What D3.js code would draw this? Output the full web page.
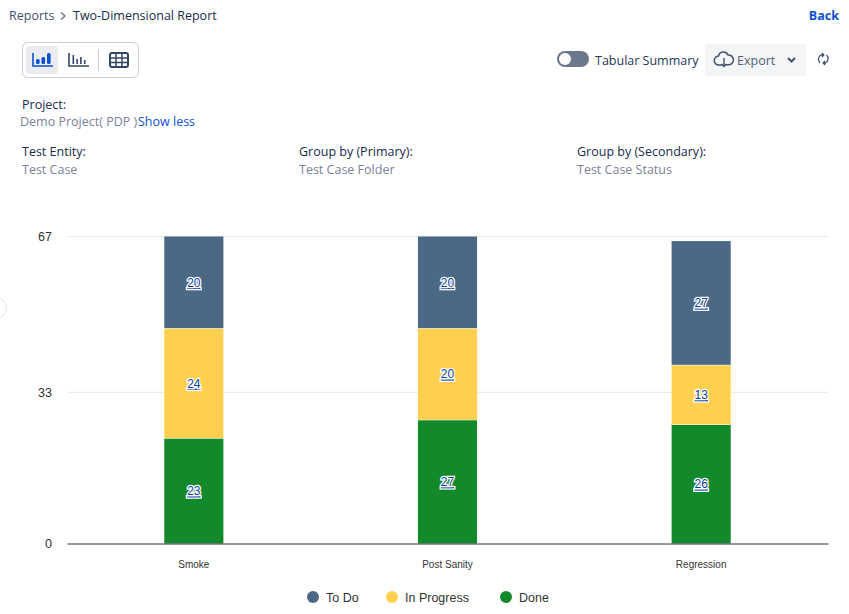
<!DOCTYPE html>
<html><head><meta charset="utf-8">
<script src="https://cdn.jsdelivr.net/npm/d3@7/dist/d3.min.js"></script>
<style>
html,body{margin:0;padding:0;background:#fff;overflow:hidden}
svg{display:block}
.ui{font-family:"Open Sans","Noto Sans",sans-serif;font-size:12.5px}
.ch{font-family:"Liberation Sans",Arial,sans-serif}
</style></head><body>
<svg id="c" width="849" height="614"></svg>
<script>
const categories=["Smoke","Post Sanity","Regression"];
const seriesNames=["Done","In Progress","To Do"];
const done=[23,27,26];
const inProgress=[24,20,13];
const toDo=[20,20,27];
const yTicks=[0,33,67];
const colors=["#128a2c","#ffd04f","#4b6885"];
const legendOrder=["To Do","In Progress","Done"];
const legendColors=["#4b6885","#ffd04f","#128a2c"];

const svg=d3.select("#c");
const dark="#253858",grey="#7a8299",blue="#0b50d0";
function t(x,y,s,o={}){
  return svg.append("text").attr("class","ui").attr("x",x).attr("y",y).text(s)
    .attr("fill",o.fill||"#172b4d").attr("font-weight",o.w||400)
    .attr("font-size",o.size||12.5).attr("text-anchor",o.a||"start");
}
// header
t(9,20,"Reports",{fill:"#42526e"});
svg.append("path").attr("d","M61 12.5l4 3.5-4 3.5").attr("fill","none").attr("stroke","#6b778c").attr("stroke-width",1.4);
t(73,20,"Two-Dimensional Report",{fill:"#172b4d",w:500});
t(839,20,"Back",{fill:blue,w:700,a:"end"});
// view buttons
svg.append("rect").attr("x",22.5).attr("y",42.5).attr("width",116).attr("height",35).attr("rx",5).attr("fill","#fff").attr("stroke","#c9ccd2");
svg.append("rect").attr("x",26).attr("y",46).attr("width",32).attr("height",28).attr("rx",3).attr("fill","#ebecf0");
function icon1(x0,col,hs){
  svg.append("path").attr("d",`M${x0} 53v13h20`).attr("fill","none").attr("stroke",col).attr("stroke-width",1.6);
  hs.forEach((h,i)=>svg.append("rect").attr("x",x0+3+i*5.5).attr("y",64-h).attr("width",i<0?3:3.6).attr("height",h).attr("rx",1.5).attr("fill",col));
}
icon1(33,"#0b50d0",[5,7,11]);
svg.append("path").attr("d","M69 53v13h20").attr("fill","none").attr("stroke","#344563").attr("stroke-width",1.6);
[9,5,7,4].forEach((h,i)=>svg.append("rect").attr("x",72.5+i*3.8).attr("y",64-h).attr("width",1.6).attr("height",h).attr("fill","#344563"));
svg.append("line").attr("x1",98.5).attr("x2",98.5).attr("y1",49).attr("y2",71).attr("stroke","#c9ccd2");
svg.append("rect").attr("x",110).attr("y",53).attr("width",18).attr("height",14).attr("rx",2).attr("fill","#fff").attr("stroke","#344563").attr("stroke-width",2);
svg.append("path").attr("d","M110 58h18M110 62.5h18M116 53v14M122 53v14").attr("stroke","#344563").attr("stroke-width",1.5);
// toolbar right
svg.append("rect").attr("x",557).attr("y",51).attr("width",32).attr("height",16).attr("rx",8).attr("fill","#6b778c");
svg.append("circle").attr("cx",565).attr("cy",59).attr("r",6).attr("fill","#fff");
t(595,65,"Tabular Summary",{fill:"#253858"});
svg.append("rect").attr("x",705).attr("y",44).attr("width",101).attr("height",32).attr("rx",3).attr("fill","#f4f5f7");
svg.append("path").attr("d","M722 65h-3a4.5 4.5 0 0 1-.5-9a5 5 0 0 1 9.5-1a4.2 4.2 0 0 1 1 9.8h-3").attr("fill","none").attr("stroke","#42526e").attr("stroke-width",1.5);
svg.append("path").attr("d","M724 58v8m-2.5-2l2.5 2.5l2.5-2.5").attr("fill","none").attr("stroke","#42526e").attr("stroke-width",1.4);
t(737,65,"Export",{fill:"#505f79"});
svg.append("path").attr("d","M788 58l3.5 3.5l3.5-3.5").attr("fill","none").attr("stroke","#42526e").attr("stroke-width",2);
svg.append("path").attr("d","M820 63a5 5 0 0 1 1-8h2M826.5 55a5 5 0 0 1-1 8h-2M822 53l1.8 2l-1.8 2M825 61l-1.8 2l1.8 2").attr("fill","none").attr("stroke","#42526e").attr("stroke-width",1.3);
// metadata
t(22,109,"Project:",{fill:"#172b4d",w:500});
t(20,126,"Demo Project( PDP )",{fill:grey});
t(138,126,"Show less",{fill:blue});
t(22,156,"Test Entity:",{w:500});
t(22,174,"Test Case",{fill:grey});
t(299,156,"Group by (Primary):",{w:500});
t(299,174,"Test Case Folder",{fill:grey});
t(577,156,"Group by (Secondary):",{w:500});
t(577,174,"Test Case Status",{fill:grey});
// side handle
svg.append("circle").attr("cx",-4).attr("cy",308).attr("r",10.5).attr("fill","#fff").attr("stroke","#dfe1e6");

// chart
const x=d3.scaleBand().domain(categories).range([67,828]).paddingInner(0.767).paddingOuter(0.3835);
const y=d3.scaleLinear().domain([0,67]).range([543.5,236.5]);
const rows=categories.map((c,i)=>({cat:c,"Done":done[i],"In Progress":inProgress[i],"To Do":toDo[i]}));
const stack=d3.stack().keys(seriesNames)(rows);

const ay=d3.axisLeft(y).tickValues(yTicks).tickSize(0).tickPadding(0);
const gy=svg.append("g").attr("transform","translate(67,0)").call(ay);
gy.select(".domain").remove();
gy.selectAll("text").attr("class","ch").attr("x",-15).attr("font-size",12.5).attr("fill","#333").attr("font-family","Liberation Sans, Arial, sans-serif");
svg.append("g").selectAll("line").data(yTicks.filter(d=>d>0)).join("line")
  .attr("x1",67).attr("x2",828).attr("y1",d=>y(d)).attr("y2",d=>y(d)).attr("stroke","#e6e6e6");

stack.forEach((s,si)=>{
  svg.append("g").selectAll("rect").data(s).join("rect")
    .attr("x",d=>x(d.data.cat)).attr("width",x.bandwidth())
    .attr("y",d=>y(d[1])+(si===0?0:0)).attr("height",d=>y(d[0])-y(d[1])-(si===0?0:0))
    .attr("fill",colors[si]).attr("stroke","#fff").attr("stroke-width",0);
  // white separator at the top of each segment
  svg.append("g").selectAll("line").data(si===2?[]:s).join("line")
    .attr("x1",d=>x(d.data.cat)).attr("x2",d=>x(d.data.cat)+x.bandwidth())
    .attr("y1",d=>y(d[1])).attr("y2",d=>y(d[1])).attr("stroke","#fff").attr("stroke-width",1);
  svg.append("g").selectAll("text").data(s).join("text").attr("class","ch")
    .attr("x",d=>x(d.data.cat)+x.bandwidth()/2).attr("y",d=>y((d[0]+d[1])/2)+4.5)
    .attr("text-anchor","middle").attr("font-size",12).attr("font-weight",400)
    .attr("fill","#0a3f9e").attr("stroke","#fff").attr("stroke-width",2.6).attr("paint-order","stroke")
    .attr("text-decoration","underline")
    .text(d=>d[1]-d[0]);
});
// axis line
const ax=d3.axisBottom(x).tickSize(0).tickPadding(0);
const gx=svg.append("g").attr("transform","translate(0,543.5)").call(ax);
gx.select(".domain").attr("stroke","#333").attr("stroke-width",1);
gx.selectAll("text").attr("class","ch").attr("y",21).attr("dy",".32em").attr("font-size",10).attr("fill","#333").attr("font-family","Liberation Sans, Arial, sans-serif");

// legend
const lx=[313,392,506];
legendOrder.forEach((n,i)=>{
  svg.append("circle").attr("cx",lx[i]).attr("cy",597).attr("r",6).attr("fill",legendColors[i]);
  svg.append("text").attr("class","ch").attr("x",lx[i]+13).attr("y",602).attr("font-size",12.5).attr("fill","#333").text(n);
});
</script></body></html>
